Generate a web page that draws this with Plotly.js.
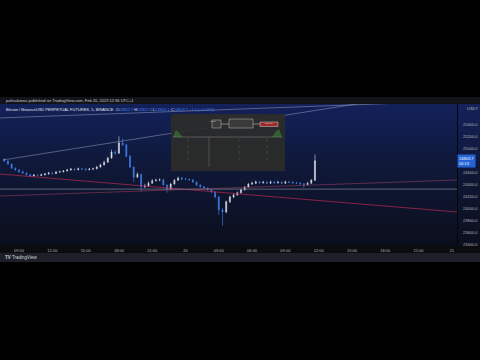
<!DOCTYPE html>
<html><head><meta charset="utf-8">
<script src="https://cdn.plot.ly/plotly-3.0.1.min.js"></script>
<style>
html,body{margin:0;padding:0;background:#000;width:480px;height:360px;overflow:hidden}
#wrap{position:relative;width:480px;height:360px}
.bg{position:absolute}
#chart{position:absolute;left:0;top:0;width:480px;height:360px}
</style></head><body>
<div id="wrap">
<div class="bg" style="left:0;top:97px;width:480px;height:7px;background:#12141b"></div>
<div class="bg" style="left:0;top:104px;width:457px;height:141px;background:linear-gradient(#13215a,#0f1838 45%,#0b0e1c)"></div>
<div class="bg" style="left:457px;top:104px;width:23px;height:141px;background:linear-gradient(#15225a,#0f1838 45%,#0c0f1d);border-left:1px solid #05060a"></div>
<div class="bg" style="left:0;top:245px;width:480px;height:8px;background:#0b0c10"></div>
<div class="bg" style="left:0;top:253px;width:480px;height:9px;background:#1d2028"></div>
<div id="chart"></div>
</div>
<script>
// ---- data ----
const times = [
"2023-02-19 07:40","2023-02-19 08:00","2023-02-19 08:20","2023-02-19 08:40","2023-02-19 09:00","2023-02-19 09:20","2023-02-19 09:40","2023-02-19 10:00","2023-02-19 10:20","2023-02-19 10:40",
"2023-02-19 11:00","2023-02-19 11:20","2023-02-19 11:40","2023-02-19 12:00","2023-02-19 12:20","2023-02-19 12:40","2023-02-19 13:00","2023-02-19 13:20","2023-02-19 13:40","2023-02-19 14:00",
"2023-02-19 14:20","2023-02-19 14:40","2023-02-19 15:00","2023-02-19 15:20","2023-02-19 15:40","2023-02-19 16:00","2023-02-19 16:20","2023-02-19 16:40","2023-02-19 17:00","2023-02-19 17:20",
"2023-02-19 17:40","2023-02-19 18:00","2023-02-19 18:20","2023-02-19 18:40","2023-02-19 19:00","2023-02-19 19:20","2023-02-19 19:40","2023-02-19 20:00","2023-02-19 20:20","2023-02-19 20:40",
"2023-02-19 21:00","2023-02-19 21:20","2023-02-19 21:40","2023-02-19 22:00","2023-02-19 22:20","2023-02-19 22:40","2023-02-19 23:00","2023-02-19 23:20","2023-02-19 23:40","2023-02-20 00:00",
"2023-02-20 00:20","2023-02-20 00:40","2023-02-20 01:00","2023-02-20 01:20","2023-02-20 01:40","2023-02-20 02:00","2023-02-20 02:20","2023-02-20 02:40","2023-02-20 03:00","2023-02-20 03:20",
"2023-02-20 03:40","2023-02-20 04:00","2023-02-20 04:20","2023-02-20 04:40","2023-02-20 05:00","2023-02-20 05:20","2023-02-20 05:40","2023-02-20 06:00","2023-02-20 06:20","2023-02-20 06:40",
"2023-02-20 07:00","2023-02-20 07:20","2023-02-20 07:40","2023-02-20 08:00","2023-02-20 08:20","2023-02-20 08:40","2023-02-20 09:00","2023-02-20 09:20","2023-02-20 09:40","2023-02-20 10:00",
"2023-02-20 10:20","2023-02-20 10:40","2023-02-20 11:00","2023-02-20 11:20","2023-02-20 11:40"];
const opens = [24830,24800,24750,24680,24650,24620,24600,24570,24550,24565,
 24560,24570,24585,24600,24590,24615,24620,24635,24650,24665,
 24655,24670,24668,24655,24665,24670,24700,24735,24780,24850,
 24950,24930,25100,25070,24880,24700,24530,24580,24370,24380,
 24430,24470,24480,24485,24400,24330,24415,24480,24515,24500,
 24495,24485,24450,24400,24370,24350,24320,24285,24200,23985,
 23950,24120,24200,24235,24270,24320,24365,24415,24430,24450,
 24435,24445,24430,24450,24435,24445,24430,24450,24445,24435,
 24430,24420,24405,24430,24480];
const highs = [24850,24815,24760,24695,24665,24640,24610,24585,24585,24580,
 24590,24600,24620,24615,24635,24640,24650,24670,24685,24680,
 24690,24685,24683,24685,24690,24720,24755,24805,24870,24990,
 24980,25210,25180,25090,24900,24710,24610,24590,24420,24460,
 24500,24505,24510,24505,24410,24435,24500,24540,24535,24520,
 24510,24500,24460,24410,24380,24360,24330,24295,24210,24015,
 24140,24225,24255,24290,24340,24385,24435,24455,24475,24470,
 24470,24465,24475,24470,24470,24465,24475,24470,24465,24455,
 24450,24435,24450,24500,24910];
const lows = [24785,24735,24665,24640,24605,24585,24555,24530,24540,24545,
 24550,24560,24575,24575,24580,24605,24610,24625,24640,24640,
 24645,24653,24640,24645,24655,24660,24690,24725,24770,24840,
 24900,24920,25050,24860,24680,24450,24520,24290,24350,24370,
 24420,24460,24465,24385,24270,24320,24405,24470,24485,24480,
 24470,24435,24380,24350,24335,24305,24265,24180,23900,23720,
 23930,24100,24180,24220,24255,24305,24350,24400,24415,24420,
 24425,24415,24420,24420,24425,24415,24420,24430,24420,24415,
 24405,24350,24395,24420,24470];
const closes = [24800,24750,24680,24650,24620,24600,24570,24550,24565,24560,
 24570,24585,24600,24590,24615,24620,24635,24650,24665,24655,
 24670,24668,24655,24665,24670,24700,24735,24780,24850,24950,
 24930,25100,25070,24880,24700,24530,24580,24370,24380,24430,
 24470,24480,24485,24400,24330,24415,24480,24515,24500,24495,
 24485,24450,24400,24370,24350,24320,24285,24200,23985,23950,
 24120,24200,24235,24270,24320,24365,24415,24430,24450,24435,
 24445,24430,24450,24435,24445,24430,24450,24445,24435,24430,
 24420,24405,24430,24480,24803.7];

// drawn trend lines (endpoints)
const lineUpperX = ["2023-02-19 07:17","2023-02-21 00:28"];
const lineUpperY = [25517, 25800];
const lineRiseX = ["2023-02-19 07:33","2023-02-21 00:28"];
const lineRiseY = [24817, 26017];
const lineRedX = ["2023-02-19 07:17","2023-02-21 00:28"];
const lineRedY = [24583, 23950];
const linePinkX = ["2023-02-19 07:17","2023-02-21 00:28"];
const linePinkY = [24217, 24483];
const lineGrayX = ["2023-02-19 07:17","2023-02-21 00:28"];
const lineGrayY = [24330, 24330];

const priceTicks = [25400,25200,25000,24600,24400,24200,24000,23800,23600,23400];
const timeTicks = ["2023-02-19 09:00","2023-02-19 12:00","2023-02-19 15:00","2023-02-19 18:00","2023-02-19 21:00","2023-02-20 00:00","2023-02-20 03:00","2023-02-20 06:00","2023-02-20 09:00","2023-02-20 12:00","2023-02-20 15:00","2023-02-20 18:00","2023-02-20 21:00","2023-02-21 00:00"];
const timeLabels = ["09:00","12:00","15:00","18:00","21:00","20","03:00","06:00","09:00","12:00","15:00","18:00","21:00","21"];

// ---- layout helpers (pixel -> paper) ----
const L=0, R=457, T=104, B=245;
const X = px => (px-L)/(R-L);
const Y = py => 1-(py-T)/(B-T);
const FONT = "Liberation Sans, Arial, sans-serif";
const TXT = "#b2b5be";

function seg(x, y, color, width, opacity){
  return {type:"scatter", mode:"lines", x:x, y:y, hoverinfo:"skip", showlegend:false,
    line:{color:color, width:width}, opacity:opacity};
}

const traces = [
  seg(lineUpperX, lineUpperY, "#aab3cc", 0.7, 0.65),
  seg(lineRiseX, lineRiseY, "#aab3cc", 0.7, 0.65),
  seg(lineRedX, lineRedY, "#b0284f", 0.9, 0.85),
  seg(linePinkX, linePinkY, "#8e3a5c", 0.8, 0.8),
  seg(lineGrayX, lineGrayY, "#7d818c", 1.3, 0.6),
  {type:"candlestick", x:times, open:opens, high:highs, low:lows, close:closes,
   hoverinfo:"skip", showlegend:false, whiskerwidth:0,
   increasing:{line:{color:"#d8dbe3", width:0.6}, fillcolor:"#d8dbe3"},
   decreasing:{line:{color:"#3f7fe6", width:0.6}, fillcolor:"#3f7fe6"}}
];

function rect(x0,y0,x1,y1,fill,line,lw){
  return {type:"rect", xref:"paper", yref:"paper", x0:X(x0), x1:X(x1), y0:Y(y0), y1:Y(y1),
    fillcolor:fill, line:{color:line||"rgba(0,0,0,0)", width:lw||0}};
}
function pline(x0,y0,x1,y1,color,w,dash){
  return {type:"line", xref:"paper", yref:"paper", x0:X(x0), x1:X(x1), y0:Y(y0), y1:Y(y1),
    line:{color:color, width:w, dash:dash||"solid"}};
}
function tri(pts, fill){
  let p = "M" + pts.map(q=>X(q[0]).toFixed(4)+","+Y(q[1]).toFixed(4)).join(" L") + " Z";
  return {type:"path", xref:"paper", yref:"paper", path:p, fillcolor:fill, line:{width:0}};
}

const shapes = [
  rect(171,114,285,171,"rgba(44,44,40,0.9)"),
  pline(173,137,282,137,"#7a7a74",0.6),
  pline(209,137,209,167,"#6c6c66",0.6),
  pline(188,139,188,162,"#5f5f5a",0.5,"dot"),
  pline(239,139,239,162,"#5f5f5a",0.5,"dot"),
  pline(267,139,267,162,"#5f5f5a",0.5,"dot"),
  tri([[173,137],[176,130],[179,133],[183,137]],"rgba(60,150,60,0.5)"),
  tri([[272,137],[276,131],[279,129],[282,137]],"rgba(60,150,60,0.5)"),
  rect(212,120,221,128,"rgba(60,60,60,0.9)","#bdbdbd",0.5),
  rect(229,119,253,128,"rgba(60,60,60,0.9)","#bdbdbd",0.5),
  rect(260,122,278,126.5,"#9c2b2b","#d0d0d0",0.5),
  pline(221,124,229,124,"#cfcfcf",0.5),
  pline(253,124,260,124,"#cfcfcf",0.5)
];

const lastClose = closes[closes.length-1];
const ann = [
  {xref:"paper", yref:"paper", x:X(4), y:Y(100.5), xanchor:"left", yanchor:"middle", showarrow:false,
   text:"pafisalamas published on TradingView.com, Feb 20, 2023 12:36 UTC+1", font:{family:FONT, size:4, color:"#c9ccd4"}},
  {xref:"paper", yref:"paper", x:X(4), y:Y(109), xanchor:"left", yanchor:"middle", showarrow:false,
   text:"Bitcoin / BinanceUSD PERPETUAL FUTURES, 5, BINANCE  O<span style='color:#3f7fe6'>24802.7</span> H<span style='color:#3f7fe6'>24807.3</span> L<span style='color:#3f7fe6'>24800.1</span> C<span style='color:#3f7fe6'>" + lastClose.toFixed(1) + " +1.0 (+0.00%)</span>",
   font:{family:FONT, size:4, color:"#e0e3eb"}},
  {xref:"paper", yref:"paper", x:X(213), y:Y(117.5), showarrow:false, text:"Input", font:{family:FONT, size:2.5, color:"#ccc"}},
  {xref:"paper", yref:"paper", x:X(269), y:Y(119.5), showarrow:false, text:"Output", font:{family:FONT, size:2.5, color:"#ccc"}},
  {xref:"paper", yref:"paper", x:X(465), y:Y(108.5), xanchor:"left", yanchor:"middle", showarrow:false,
   text:"USDT", font:{family:FONT, size:4, color:TXT}},
  {xref:"paper", yref:"y", x:X(457), y:lastClose, xanchor:"left", yanchor:"middle", showarrow:false,
   text:lastClose.toFixed(1)+"<br>00:13", bgcolor:"#2563d6", borderpad:1, align:"left",
   font:{family:FONT, size:4, color:"#ffffff"}},
  {xref:"paper", yref:"paper", x:X(3), y:Y(257.5), xanchor:"left", yanchor:"middle", showarrow:false,
   text:"<b>TV</b> TradingView", font:{family:FONT, size:4.5, color:"#d1d4dc"}}
];

const layout = {
  width:480, height:360,
  margin:{l:L, r:480-R, t:T, b:360-B, pad:0},
  paper_bgcolor:"rgba(0,0,0,0)", plot_bgcolor:"rgba(0,0,0,0)",
  showlegend:false, boxgap:0.6,
  xaxis:{type:"date", range:["2023-02-19 07:17","2023-02-21 00:28"], rangeslider:{visible:false},
    tickvals:timeTicks, ticktext:timeLabels, ticks:"", ticklabelstandoff:2,
    showgrid:false, zeroline:false, showline:false, fixedrange:true,
    tickfont:{family:FONT, size:4, color:TXT}},
  yaxis:{range:[23400,25750], side:"right", tickvals:priceTicks, ticktext:priceTicks.map(v=>v.toFixed(1)),
    ticks:"", ticklabelstandoff:5, showgrid:false, zeroline:false, showline:false, fixedrange:true,
    tickfont:{family:FONT, size:4, color:TXT}},
  shapes:shapes,
  annotations:ann
};

Plotly.newPlot("chart", traces, layout, {displayModeBar:false, staticPlot:true});
</script>
</body></html>
